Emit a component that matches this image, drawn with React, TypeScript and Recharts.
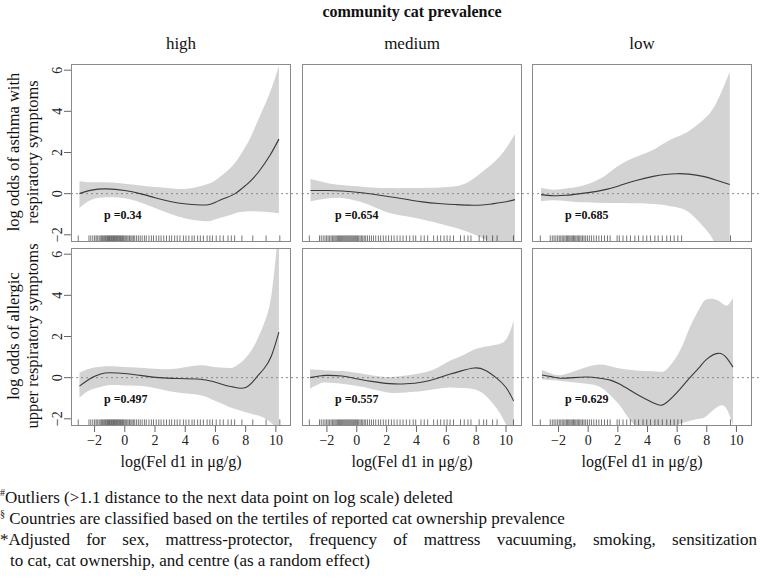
import React from 'react';
import { ComposedChart, Area, Line, XAxis, YAxis, ReferenceLine } from 'recharts';

// ---------- categories / labels ----------
const groups = ['high', 'medium', 'low'];
const outcomeLabels = [
  ['log odds of asthma with', 'respiratory symptoms'],
  ['log odds of allergic', 'upper respiratory symptoms'],
];
const pLabels = [
  ['p =0.34', 'p =0.654', 'p =0.685'],
  ['p =0.497', 'p =0.557', 'p =0.629'],
];
const xTicks = [-2, 0, 2, 4, 6, 8, 10];
const yTicks = [-2, 0, 2, 4, 6];

// ---------- asthma, high ----------
const aHX = [-3.0, -2.2, -1.2, 0.0, 1.0, 2.0, 3.0, 4.1, 5.4, 6.0, 6.7, 7.3, 7.8, 8.3, 8.9, 9.6, 10.2];
const aHFit = [0.0, 0.17, 0.23, 0.15, 0.0, -0.2, -0.38, -0.5, -0.55, -0.42, -0.2, 0.0, 0.28, 0.6, 1.1, 1.85, 2.65];
const aHHi = [0.6, 0.55, 0.55, 0.48, 0.4, 0.32, 0.26, 0.24, 0.45, 0.65, 1.05, 1.5, 2.05, 2.7, 3.7, 4.9, 6.2];
const aHLo = [-0.7, -0.3, -0.18, -0.22, -0.42, -0.7, -0.98, -1.22, -1.34, -1.24, -1.1, -0.95, -0.88, -0.85, -0.87, -0.9, -0.95];

// ---------- asthma, medium ----------
const aMX = [-3.1, -2.0, -1.0, 0.0, 1.0, 2.2, 3.5, 4.4, 5.5, 6.6, 7.5, 8.4, 9.0, 9.8, 10.6];
const aMFit = [0.15, 0.15, 0.13, 0.07, -0.02, -0.15, -0.3, -0.4, -0.48, -0.53, -0.56, -0.55, -0.5, -0.42, -0.29];
const aMHi = [0.71, 0.52, 0.42, 0.36, 0.3, 0.27, 0.27, 0.28, 0.3, 0.36, 0.58, 1.05, 1.4, 2.0, 2.9];
const aMLo = [-0.37, -0.24, -0.21, -0.35, -0.6, -0.94, -1.12, -1.26, -1.45, -1.66, -1.88, -2.15, -2.45, -3.2, -4.0];

// ---------- asthma, low ----------
const aLX = [-3.18, -2.34, -1.5, -0.54, 0.5, 1.3, 2.15, 3.3, 4.39, 5.2, 5.96, 6.8, 7.75, 8.6, 9.55];
const aLFit = [-0.05, -0.1, -0.08, 0.0, 0.1, 0.22, 0.4, 0.65, 0.84, 0.93, 0.97, 0.95, 0.84, 0.66, 0.44];
const aLHi = [0.27, 0.19, 0.25, 0.36, 0.62, 0.95, 1.4, 1.8, 2.13, 2.48, 2.75, 3.05, 3.58, 4.35, 5.92];
const aLLo = [-0.37, -0.32, -0.36, -0.42, -0.44, -0.45, -0.45, -0.47, -0.5, -0.56, -0.66, -0.9, -1.58, -2.5, -4.5];

// ---------- allergic upper respiratory, high ----------
const uHX = [-3.0, -2.3, -1.6, -0.96, 0.0, 1.0, 2.3, 3.5, 5.0, 5.9, 6.7, 7.2, 8.0, 8.7, 9.2, 9.7, 10.2];
const uHFit = [-0.41, -0.05, 0.18, 0.24, 0.2, 0.11, 0.0, -0.04, -0.08, -0.2, -0.38, -0.46, -0.48, 0.0, 0.42, 1.05, 2.21];
const uHHi = [0.24, 0.45, 0.53, 0.55, 0.52, 0.48, 0.42, 0.45, 0.6, 0.52, 0.48, 0.5, 0.95, 1.75, 2.6, 4.0, 7.5];
const uHLo = [-0.97, -0.6, -0.45, -0.36, -0.38, -0.4, -0.55, -0.72, -0.85, -1.1, -1.35, -1.5, -1.68, -1.82, -1.95, -2.2, -2.6];

// ---------- allergic upper respiratory, medium ----------
const uMX = [-3.13, -2.5, -2.04, -1.0, -0.03, 1.0, 2.19, 3.3, 4.42, 5.3, 6.21, 7.0, 7.88, 8.6, 9.33, 10.0, 10.51];
const uMFit = [0.0, 0.08, 0.11, 0.08, -0.05, -0.18, -0.29, -0.3, -0.21, -0.05, 0.16, 0.33, 0.47, 0.36, 0.0, -0.48, -1.13];
const uMHi = [0.4, 0.38, 0.35, 0.32, 0.24, 0.12, 0.03, 0.1, 0.24, 0.45, 0.81, 1.05, 1.37, 1.5, 1.6, 1.85, 2.77];
const uMLo = [-0.53, -0.3, -0.24, -0.3, -0.4, -0.55, -0.73, -0.72, -0.65, -0.55, -0.48, -0.5, -0.56, -0.85, -1.45, -2.3, -3.5];

// ---------- allergic upper respiratory, low ----------
const uLX = [-3.12, -2.5, -1.89, -1.0, -0.09, 0.8, 1.5, 2.15, 2.8, 3.49, 4.62, 5.29, 6.18, 6.86, 7.5, 7.98, 8.76, 9.32, 9.77];
const uLFit = [0.13, 0.05, -0.03, 0.0, 0.03, -0.03, -0.12, -0.32, -0.6, -0.89, -1.29, -1.21, -0.57, 0.0, 0.5, 0.89, 1.18, 0.97, 0.51];
const uLHi = [0.37, 0.2, 0.12, 0.3, 0.52, 0.64, 0.55, 0.44, 0.38, 0.34, 0.3, 0.4, 1.3, 2.45, 3.35, 3.8, 3.75, 3.5, 3.87];
const uLLo = [-0.08, -0.12, -0.16, -0.22, -0.3, -0.45, -0.85, -1.37, -2.05, -2.4, -2.5, -2.45, -2.25, -2.1, -2.0, -1.86, -1.4, -1.5, -2.3];

// ---------- rug (observed log Fel d1 values) ----------
const rugHigh = [-3.08, -2.37, -2.25, -2.12, -2.0, -1.9, -1.82, -1.71, -1.63, -1.55, -1.48, -1.4, -1.33, -1.27, -1.2, -1.14, -1.08,
  -1.02, -0.97, -0.91, -0.86, -0.8, -0.74, -0.69, -0.63, -0.57, -0.52, -0.46, -0.4, -0.34, -0.28, -0.21, -0.15, -0.08, 0.0, 0.07,
  0.14, 0.22, 0.31, 0.4, 0.48, 0.57, 0.66, 0.78, 0.9, 1.02, 1.15, 1.3, 1.42, 1.6, 1.76, 1.9, 2.08, 2.25, 2.4, 2.58, 2.76, 2.95,
  3.1, 3.3, 3.47, 3.65, 3.88, 4.05, 4.24, 4.45, 4.6, 4.82, 5.0, 5.2, 5.45, 5.63, 5.8, 6.05, 6.3, 6.52, 6.83, 7.05, 7.27, 7.75,
  8.47, 9.35, 10.26];
const rugMedium = [-3.18, -2.5, -2.38, -2.25, -2.13, -2.02, -1.92, -1.82, -1.72, -1.63, -1.54, -1.46, -1.38, -1.3, -1.22, -1.15,
  -1.08, -1.01, -0.94, -0.87, -0.8, -0.73, -0.66, -0.59, -0.52, -0.45, -0.38, -0.31, -0.24, -0.17, -0.1, -0.03, 0.05, 0.13, 0.22,
  0.31, 0.4, 0.5, 0.6, 0.72, 0.85, 0.98, 1.12, 1.27, 1.45, 1.6, 1.78, 1.95, 2.13, 2.32, 2.5, 2.7, 2.9, 3.1, 3.32, 3.55, 3.78,
  3.95, 4.3, 4.52, 4.75, 5.15, 5.4, 5.62, 5.85, 6.05, 6.25, 6.48, 6.95, 7.2, 7.45, 7.65, 8.2, 8.5, 8.7, 9.1, 9.4, 10.5];
const rugLow = [-3.23, -2.56, -2.42, -2.3, -2.18, -2.06, -1.95, -1.85, -1.75, -1.65, -1.56, -1.47, -1.39, -1.31, -1.23, -1.15,
  -1.07, -0.99, -0.91, -0.83, -0.74, -0.66, -0.57, -0.48, -0.38, -0.28, -0.17, -0.05, 0.08, 0.22, 0.38, 0.55, 0.72, 0.9, 1.1,
  1.3, 1.48, 1.95, 2.1, 2.35, 2.6, 2.85, 3.15, 3.4, 3.7, 3.95, 4.2, 4.5, 4.72, 5.0, 5.3, 5.55, 5.8, 6.05, 6.3, 9.6];

const footnotes = [
  { mark: '#', text: 'Outliers (>1.1 distance to the next data point on log scale) deleted' },
  { mark: '§', text: ' Countries are classified based on the tertiles of reported cat ownership prevalence' },
];
const footnote3a = '*Adjusted for sex, mattress-protector, frequency of mattress vacuuming, smoking, sensitization';
const footnote3b = 'to cat, cat ownership, and centre (as a random effect)';

// ---------- assembled tables ----------
const SERIES = [
  [
    { x: aHX, fit: aHFit, lo: aHLo, hi: aHHi },
    { x: aMX, fit: aMFit, lo: aMLo, hi: aMHi },
    { x: aLX, fit: aLFit, lo: aLLo, hi: aLHi },
  ],
  [
    { x: uHX, fit: uHFit, lo: uHLo, hi: uHHi },
    { x: uMX, fit: uMFit, lo: uMLo, hi: uMHi },
    { x: uLX, fit: uLFit, lo: uLLo, hi: uLHi },
  ],
];
const RUGS = [rugHigh, rugMedium, rugLow];

// ---------- layout ----------
const FONT = '"Liberation Serif", "Times New Roman", serif';
const Y_DOMAIN: [number, number] = [-2.35, 6.3];
const X_DOMAINS: [number, number][] = [[-3.56, 11.0], [-3.67, 11.07], [-3.79, 11.05]];
const COL_LEFT = [71, 302, 532];
const PANEL_W = 220;
const ROW_TOP = [64, 248];
const PANEL_H = 178;
const Y_AXIS_W = 71;
const X_AXIS_H = 32;

const fmt = (v: number) => (v < 0 ? '\u2212' + Math.abs(v) : String(v));

const XTick = (props: any) => {
  const { x, y, payload } = props;
  return (
    <text x={x} y={y} dy="0.71em" textAnchor="middle" fontSize={14} fontFamily={FONT} fill="#222">
      {fmt(payload.value)}
    </text>
  );
};

const YTick = (props: any) => {
  const { x, y, payload } = props;
  return (
    <text x={x} y={y} textAnchor="middle" fontSize={14} fontFamily={FONT} fill="#222"
      transform={`rotate(-90 ${x} ${y})`}>
      {fmt(payload.value)}
    </text>
  );
};

function Panel({ r, c }: { r: number; c: number }) {
  const s = SERIES[r][c];
  const data = s.x.map((x, i) => ({ x, fit: s.fit[i], band: [s.lo[i], s.hi[i]] }));
  const rug = RUGS[c];
  const showY = c === 0;
  const showX = r === 1;
  const width = PANEL_W + (showY ? Y_AXIS_W : 0);
  const height = PANEL_H + (showX ? X_AXIS_H : 0);
  const left = showY ? COL_LEFT[0] - Y_AXIS_W : COL_LEFT[c];
  const [x0, x1] = X_DOMAINS[c];
  return (
    <div style={{ position: 'absolute', left, top: ROW_TOP[r], width, height }}>
      <ComposedChart width={width} height={height} data={data} margin={{ top: 0, right: 0, bottom: 0, left: 0 }}>
        <XAxis type="number" dataKey="x" domain={X_DOMAINS[c]} ticks={xTicks} interval={0} hide={!showX}
          allowDataOverflow height={X_AXIS_H} tickSize={6} tickMargin={3} axisLine={false}
          tickLine={{ stroke: '#666' }} tick={<XTick />} />
        <YAxis type="number" domain={Y_DOMAIN} ticks={yTicks} interval={0} hide={!showY}
          allowDataOverflow width={Y_AXIS_W} tickSize={7} tickMargin={2} axisLine={false}
          tickLine={{ stroke: '#666' }} tick={<YTick />} />
        <Area dataKey="band" type="natural" stroke="none" fill="#d3d3d3" fillOpacity={1}
          dot={false} activeDot={false} isAnimationActive={false} />
        <ReferenceLine segment={[{ x: x0, y: 0 }, { x: x1 + 0.7, y: 0 }]} stroke="#8a8a8a"
          strokeDasharray="2 3" ifOverflow="visible" />
        <Line dataKey="fit" type="natural" stroke="#3a3a3a" strokeWidth={1.1} dot={false}
          activeDot={false} isAnimationActive={false} />
        {rug.map((v, i) => (
          <ReferenceLine key={i} segment={[{ x: v, y: -2.32 }, { x: v, y: -2.03 }]} stroke="#000"
            strokeOpacity={0.6} strokeWidth={0.9} ifOverflow="visible" />
        ))}
      </ComposedChart>
      <div style={{
        position: 'absolute', left: showY ? Y_AXIS_W : 0, top: 0, width: PANEL_W, height: PANEL_H,
        border: '1px solid #8a8a8a', boxSizing: 'border-box', pointerEvents: 'none',
      }} />
    </div>
  );
}

export default function App() {
  return (
    <div style={{ position: 'absolute', left: 0, top: 0, width: 762, height: 584, background: '#fff', fontFamily: FONT, color: '#111' }}>
      <style>{`.recharts-surface{overflow:visible}`}</style>
      {[0, 1].map((r) => [0, 1, 2].map((c) => <Panel key={`${r}-${c}`} r={r} c={c} />))}
      <svg width={762} height={584} style={{ position: 'absolute', left: 0, top: 0, pointerEvents: 'none' }}>
        <text x={412} y={17} textAnchor="middle" fontSize={16} fontWeight="bold" fontFamily={FONT} fill="#111">
          community cat prevalence
        </text>
        {groups.map((g, c) => (
          <text key={g} x={COL_LEFT[c] + PANEL_W / 2} y={49} textAnchor="middle" fontSize={17} fontFamily={FONT} fill="#111">
            {g}
          </text>
        ))}
        {outcomeLabels.map((lines, r) => {
          const cy = ROW_TOP[r] + PANEL_H / 2 - 1;
          return lines.map((t, k) => {
            const bx = k === 0 ? 19 : 38;
            return (
              <text key={`${r}-${k}`} x={bx} y={cy} textAnchor="middle" fontSize={16.5} fontFamily={FONT} fill="#111"
                transform={`rotate(-90 ${bx} ${cy})`}>
                {t}
              </text>
            );
          });
        })}
        {pLabels.map((row, r) => row.map((p, c) => (
          <text key={`${r}-${c}`} x={COL_LEFT[c] + 33} y={ROW_TOP[r] + 155} fontSize={12} fontWeight="bold" fontFamily={FONT} fill="#111">
            {p}
          </text>
        )))}
        {groups.map((g, c) => (
          <text key={`xl-${g}`} x={COL_LEFT[c] + PANEL_W / 2} y={467} textAnchor="middle" fontSize={16} fontFamily={FONT} fill="#111">
            log(Fel d1 in μg/g)
          </text>
        ))}
      </svg>
      <div style={{ position: 'absolute', left: 0, top: 487, width: 760, fontSize: 17, lineHeight: '21px', color: '#111' }}>
        {footnotes.map((f) => (
          <div key={f.mark} style={{ whiteSpace: 'nowrap' }}>
            <sup style={{ fontSize: 10, verticalAlign: 'top', lineHeight: '12px' }}>{f.mark}</sup>{f.text}
          </div>
        ))}
        <div style={{ textAlign: 'justify', textAlignLast: 'justify', width: 757 }}>{footnote3a}</div>
        <div style={{ paddingLeft: 10 }}>{footnote3b}</div>
      </div>
    </div>
  );
}
